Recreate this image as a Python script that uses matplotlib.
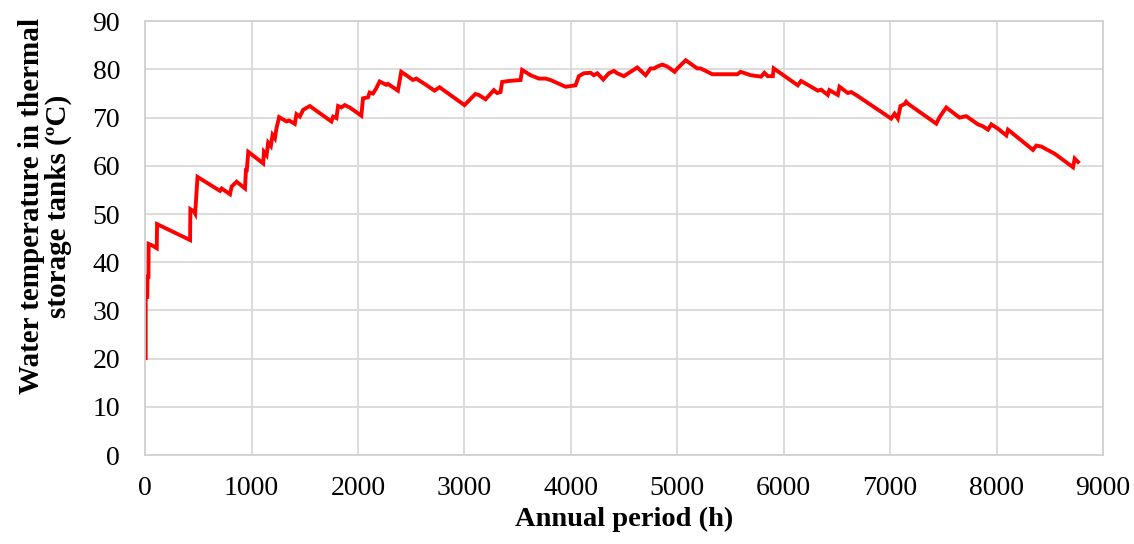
import matplotlib
matplotlib.use("Agg")
import matplotlib.pyplot as plt

# data
hours = [5, 5, 20, 22, 31, 33, 65, 109, 112, 422, 425, 460, 470, 492, 703, 719,
         797, 813, 859, 938, 947, 955, 969, 1109, 1116, 1141, 1156, 1181, 1197,
         1219, 1234, 1259, 1328, 1353, 1406, 1422, 1453, 1484, 1547, 1750, 1766,
         1797, 1813, 1844, 1875, 1922, 2031, 2047, 2094, 2109, 2141, 2172, 2203,
         2266, 2281, 2375, 2406, 2453, 2516, 2547, 2625, 2719, 2766, 3000, 3103,
         3135, 3198, 3276, 3307, 3339, 3354, 3417, 3527, 3542, 3621, 3699, 3762,
         3809, 3950, 4044, 4075, 4122, 4185, 4216, 4248, 4304, 4357, 4404, 4436,
         4498, 4561, 4624, 4702, 4749, 4781, 4812, 4859, 4906, 4975, 5000, 5079,
         5188, 5220, 5329, 5564, 5595, 5690, 5787, 5818, 5850, 5897, 5906, 6132,
         6163, 6320, 6351, 6414, 6429, 6508, 6524, 6602, 6633, 6680, 7009, 7041,
         7072, 7097, 7135, 7150, 7166, 7433, 7464, 7527, 7652, 7715, 7825, 7871,
         7919, 7950, 8013, 8091, 8107, 8342, 8373, 8420, 8546, 8718, 8734, 8765]
temp = [20.1, 32.8, 32.8, 37.0, 37.0, 43.8, 43.5, 42.9, 47.9, 44.6, 51.0, 50.5,
        50.1, 57.7, 54.8, 55.3, 54.1, 55.7, 56.7, 55.3, 59.1, 59.1, 62.9, 60.5,
        62.9, 62.2, 64.8, 64.1, 66.4, 65.7, 67.8, 70.1, 69.2, 69.4, 68.7, 70.7,
        70.2, 71.6, 72.4, 69.2, 70.2, 69.9, 72.4, 72.1, 72.6, 72.1, 70.4, 74.0,
        74.2, 75.2, 75.0, 76.1, 77.5, 76.8, 77.0, 75.6, 79.5, 78.8, 77.8, 78.1,
        77.0, 75.6, 76.3, 72.6, 74.9, 74.7, 73.8, 75.7, 75.1, 75.3, 77.4, 77.6,
        77.8, 79.9, 78.8, 78.1, 78.1, 77.8, 76.4, 76.7, 78.6, 79.2, 79.3, 78.8,
        79.2, 77.9, 79.2, 79.7, 79.2, 78.6, 79.5, 80.4, 78.8, 80.2, 80.2, 80.6,
        81.0, 80.6, 79.5, 80.2, 81.9, 80.2, 80.2, 79.0, 79.0, 79.5, 78.8, 78.5,
        79.3, 78.6, 78.6, 80.2, 76.7, 77.6, 75.6, 75.8, 74.7, 75.7, 74.7, 76.4,
        75.1, 75.3, 74.7, 69.8, 70.8, 69.8, 72.4, 72.8, 73.3, 72.9, 68.75, 70.1,
        72.1, 70.0, 70.3, 68.6, 68.2, 67.5, 68.6, 67.7, 66.3, 67.5, 63.3, 64.2,
        64.0, 62.5, 59.7, 61.5, 60.8]

x_ticks = list(range(0, 9001, 1000))
y_ticks = list(range(0, 91, 10))

plt.rcParams['font.family'] = ['Liberation Serif', 'DejaVu Serif']

fig = plt.figure(figsize=(11.34, 5.44), dpi=100)
ax = fig.add_axes([0.128, 0.1636, 0.8447, 0.7974])

ax.plot(hours, temp, color='#ff0000', linewidth=2.8, solid_joinstyle='miter')

ax.set_xlim(0, 9000)
ax.set_ylim(0, 90)
ax.set_xticks(x_ticks)
ax.set_yticks(y_ticks)
ax.tick_params(length=0, labelsize=20)
ax.tick_params(axis='x', pad=15)
ax.tick_params(axis='y', pad=18)
ax.grid(True, color='#d9d9d9', linewidth=1.3)
ax.set_axisbelow(True)
for s in ax.spines.values():
    s.set_color('#d0d0d0')
    s.set_linewidth(1.3)

ax.set_xlabel('Annual period (h)', fontsize=20.5, fontweight='bold', labelpad=4)
ax.set_ylabel('Water temperature in thermal\nstorage tanks (ºC)', fontsize=21,
              fontweight='bold', linespacing=1.0)
ax.yaxis.set_label_coords(-0.076, 0.574)

fig.savefig('out.png', dpi=100)
